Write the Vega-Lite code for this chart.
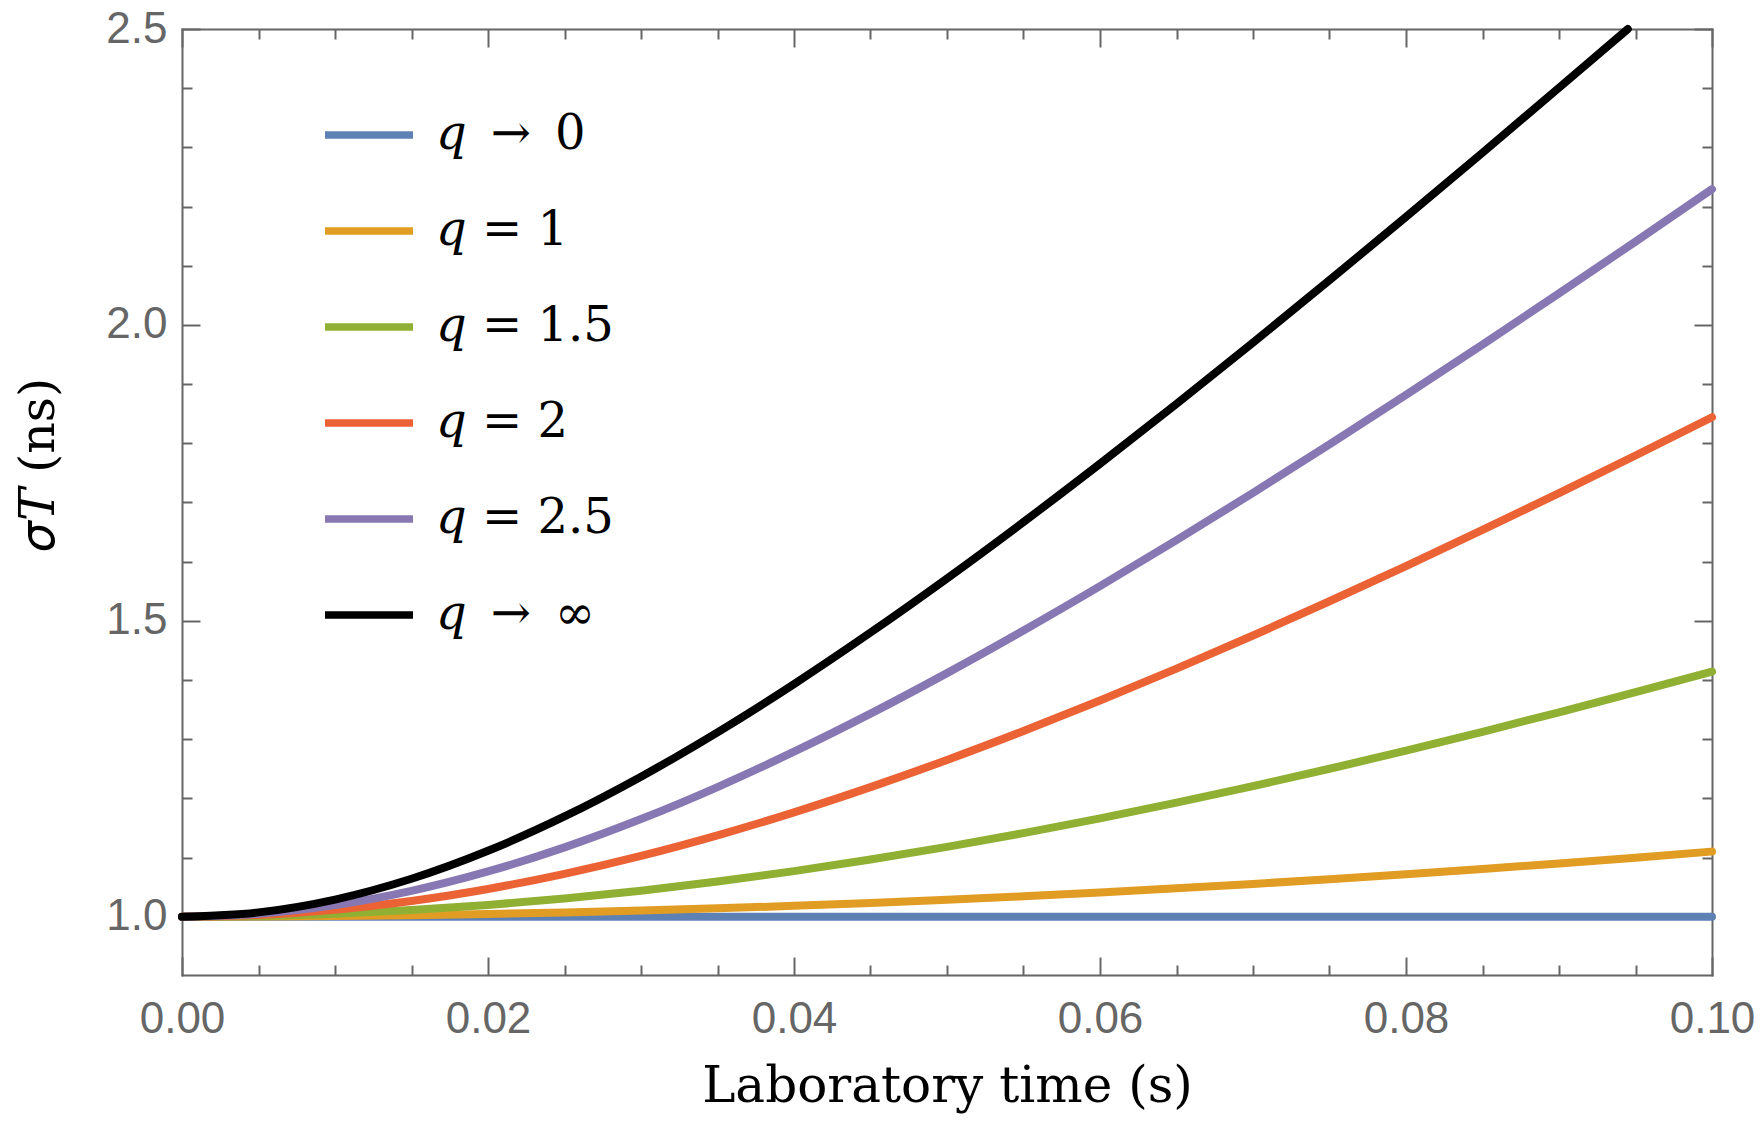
{
  "$schema": "https://vega.github.io/schema/vega-lite/v6.json",
  "width": 1530,
  "height": 946,
  "autosize": {"type": "none"},
  "padding": {"left": 182, "top": 29, "right": 49, "bottom": 150},
  "background": "white",
  "config": {
    "view": {"stroke": null},
    "axis": {
      "grid": false,
      "domainColor": "#666666",
      "domainWidth": 2,
      "domainCap": "square",
      "tickColor": "#666666",
      "tickWidth": 2,
      "labelColor": "#666666",
      "labelFont": "Liberation Sans",
      "labelFontSize": 44,
      "labelFlush": false,
      "labelOverlap": false,
      "labelBound": false
    }
  },
  "data": {
    "values": [
      {"t": 0, "s": 1.0, "series": "q → 0"},
      {"t": 0.05, "s": 1.0, "series": "q → 0"},
      {"t": 0.1, "s": 1.0, "series": "q → 0"},
      {"t": 0, "s": 1.0, "series": "q = 1"},
      {"t": 0.005, "s": 1.0003, "series": "q = 1"},
      {"t": 0.01, "s": 1.0012, "series": "q = 1"},
      {"t": 0.015, "s": 1.0026, "series": "q = 1"},
      {"t": 0.02, "s": 1.0046, "series": "q = 1"},
      {"t": 0.025, "s": 1.0072, "series": "q = 1"},
      {"t": 0.03, "s": 1.0104, "series": "q = 1"},
      {"t": 0.035, "s": 1.0141, "series": "q = 1"},
      {"t": 0.04, "s": 1.0184, "series": "q = 1"},
      {"t": 0.045, "s": 1.0233, "series": "q = 1"},
      {"t": 0.05, "s": 1.0286, "series": "q = 1"},
      {"t": 0.055, "s": 1.0345, "series": "q = 1"},
      {"t": 0.06, "s": 1.0410, "series": "q = 1"},
      {"t": 0.065, "s": 1.0479, "series": "q = 1"},
      {"t": 0.07, "s": 1.0554, "series": "q = 1"},
      {"t": 0.075, "s": 1.0633, "series": "q = 1"},
      {"t": 0.08, "s": 1.0718, "series": "q = 1"},
      {"t": 0.085, "s": 1.0807, "series": "q = 1"},
      {"t": 0.09, "s": 1.0900, "series": "q = 1"},
      {"t": 0.095, "s": 1.0998, "series": "q = 1"},
      {"t": 0.1, "s": 1.1101, "series": "q = 1"},
      {"t": 0, "s": 1.0, "series": "q = 1.5"},
      {"t": 0.005, "s": 1.0012, "series": "q = 1.5"},
      {"t": 0.01, "s": 1.0050, "series": "q = 1.5"},
      {"t": 0.015, "s": 1.0112, "series": "q = 1.5"},
      {"t": 0.02, "s": 1.0198, "series": "q = 1.5"},
      {"t": 0.025, "s": 1.0308, "series": "q = 1.5"},
      {"t": 0.03, "s": 1.0440, "series": "q = 1.5"},
      {"t": 0.035, "s": 1.0595, "series": "q = 1.5"},
      {"t": 0.04, "s": 1.0770, "series": "q = 1.5"},
      {"t": 0.045, "s": 1.0966, "series": "q = 1.5"},
      {"t": 0.05, "s": 1.1180, "series": "q = 1.5"},
      {"t": 0.055, "s": 1.1413, "series": "q = 1.5"},
      {"t": 0.06, "s": 1.1662, "series": "q = 1.5"},
      {"t": 0.065, "s": 1.1927, "series": "q = 1.5"},
      {"t": 0.07, "s": 1.2207, "series": "q = 1.5"},
      {"t": 0.075, "s": 1.2500, "series": "q = 1.5"},
      {"t": 0.08, "s": 1.2806, "series": "q = 1.5"},
      {"t": 0.085, "s": 1.3124, "series": "q = 1.5"},
      {"t": 0.09, "s": 1.3454, "series": "q = 1.5"},
      {"t": 0.095, "s": 1.3793, "series": "q = 1.5"},
      {"t": 0.1, "s": 1.4142, "series": "q = 1.5"},
      {"t": 0, "s": 1.0, "series": "q = 2"},
      {"t": 0.005, "s": 1.0030, "series": "q = 2"},
      {"t": 0.01, "s": 1.0119, "series": "q = 2"},
      {"t": 0.015, "s": 1.0266, "series": "q = 2"},
      {"t": 0.02, "s": 1.0469, "series": "q = 2"},
      {"t": 0.025, "s": 1.0724, "series": "q = 2"},
      {"t": 0.03, "s": 1.1027, "series": "q = 2"},
      {"t": 0.035, "s": 1.1375, "series": "q = 2"},
      {"t": 0.04, "s": 1.1764, "series": "q = 2"},
      {"t": 0.045, "s": 1.2190, "series": "q = 2"},
      {"t": 0.05, "s": 1.2649, "series": "q = 2"},
      {"t": 0.055, "s": 1.3138, "series": "q = 2"},
      {"t": 0.06, "s": 1.3653, "series": "q = 2"},
      {"t": 0.065, "s": 1.4192, "series": "q = 2"},
      {"t": 0.07, "s": 1.4751, "series": "q = 2"},
      {"t": 0.075, "s": 1.5330, "series": "q = 2"},
      {"t": 0.08, "s": 1.5925, "series": "q = 2"},
      {"t": 0.085, "s": 1.6535, "series": "q = 2"},
      {"t": 0.09, "s": 1.7158, "series": "q = 2"},
      {"t": 0.095, "s": 1.7793, "series": "q = 2"},
      {"t": 0.1, "s": 1.8439, "series": "q = 2"},
      {"t": 0, "s": 1.0, "series": "q = 2.5"},
      {"t": 0.005, "s": 1.0050, "series": "q = 2.5"},
      {"t": 0.01, "s": 1.0197, "series": "q = 2.5"},
      {"t": 0.015, "s": 1.0437, "series": "q = 2.5"},
      {"t": 0.02, "s": 1.0765, "series": "q = 2.5"},
      {"t": 0.025, "s": 1.1172, "series": "q = 2.5"},
      {"t": 0.03, "s": 1.1650, "series": "q = 2.5"},
      {"t": 0.035, "s": 1.2191, "series": "q = 2.5"},
      {"t": 0.04, "s": 1.2788, "series": "q = 2.5"},
      {"t": 0.045, "s": 1.3431, "series": "q = 2.5"},
      {"t": 0.05, "s": 1.4116, "series": "q = 2.5"},
      {"t": 0.055, "s": 1.4836, "series": "q = 2.5"},
      {"t": 0.06, "s": 1.5586, "series": "q = 2.5"},
      {"t": 0.065, "s": 1.6363, "series": "q = 2.5"},
      {"t": 0.07, "s": 1.7162, "series": "q = 2.5"},
      {"t": 0.075, "s": 1.7981, "series": "q = 2.5"},
      {"t": 0.08, "s": 1.8817, "series": "q = 2.5"},
      {"t": 0.085, "s": 1.9668, "series": "q = 2.5"},
      {"t": 0.09, "s": 2.0532, "series": "q = 2.5"},
      {"t": 0.095, "s": 2.1408, "series": "q = 2.5"},
      {"t": 0.1, "s": 2.2294, "series": "q = 2.5"},
      {"t": 0, "s": 1.0, "series": "q → ∞"},
      {"t": 0.005, "s": 1.0073, "series": "q → ∞"},
      {"t": 0.01, "s": 1.0290, "series": "q → ∞"},
      {"t": 0.015, "s": 1.0641, "series": "q → ∞"},
      {"t": 0.02, "s": 1.1114, "series": "q → ∞"},
      {"t": 0.025, "s": 1.1694, "series": "q → ∞"},
      {"t": 0.03, "s": 1.2366, "series": "q → ∞"},
      {"t": 0.035, "s": 1.3116, "series": "q → ∞"},
      {"t": 0.04, "s": 1.3931, "series": "q → ∞"},
      {"t": 0.045, "s": 1.4801, "series": "q → ∞"},
      {"t": 0.05, "s": 1.5716, "series": "q → ∞"},
      {"t": 0.055, "s": 1.6669, "series": "q → ∞"},
      {"t": 0.06, "s": 1.7654, "series": "q → ∞"},
      {"t": 0.065, "s": 1.8666, "series": "q → ∞"},
      {"t": 0.07, "s": 1.9701, "series": "q → ∞"},
      {"t": 0.075, "s": 2.0755, "series": "q → ∞"},
      {"t": 0.08, "s": 2.1825, "series": "q → ∞"},
      {"t": 0.085, "s": 2.2909, "series": "q → ∞"},
      {"t": 0.09, "s": 2.4006, "series": "q → ∞"},
      {"t": 0.0945, "s": 2.5, "series": "q → ∞"}
    ]
  },
  "layer": [
    {
      "mark": {"type": "line", "strokeWidth": 8, "strokeCap": "round", "interpolate": "monotone"},
      "encoding": {
        "x": {
          "field": "t", "type": "quantitative",
          "scale": {"domain": [0, 0.1], "nice": false, "zero": false},
          "axis": {
            "orient": "bottom",
            "values": [0, 0.02, 0.04, 0.06, 0.08, 0.1],
            "format": ".2f",
            "ticks": false,
            "labelPadding": 22,
            "title": "Laboratory time (s)",
            "titleFont": "DejaVu Serif",
            "titleFontSize": 50,
            "titleFontWeight": "normal",
            "titleColor": "black",
            "titleX": 765,
            "titleY": 126,
            "titleAlign": "center",
            "titleBaseline": "alphabetic"
          }
        },
        "y": {
          "field": "s", "type": "quantitative",
          "scale": {"domain": [0.9015, 2.5], "nice": false, "zero": false},
          "axis": {
            "orient": "left",
            "values": [1, 1.5, 2, 2.5],
            "format": ".1f",
            "ticks": false,
            "labelPadding": 15,
            "title": "𝜎𝑇 (ns)",
            "titleFont": "DejaVu Serif",
            "titleFontSize": 49,
            "titleFontWeight": "normal",
            "titleColor": "black",
            "titleX": -129,
            "titleY": 435,
            "titleAngle": -90,
            "titleAlign": "center",
            "titleBaseline": "alphabetic"
          }
        },
        "color": {
          "field": "series", "type": "nominal",
          "scale": {
            "domain": ["q → 0", "q = 1", "q = 1.5", "q = 2", "q = 2.5", "q → ∞"],
            "range": ["#5E81B5", "#E19C24", "#8FB032", "#EB6235", "#8778B3", "#000000"]
          },
          "legend": {
            "orient": "none",
            "legendX": 139,
            "legendY": 58,
            "title": null,
            "padding": 0,
            "symbolType": "stroke",
            "symbolSize": 7744,
            "symbolStrokeWidth": 7.5,
            "labelFont": "DejaVu Serif",
            "labelFontSize": 48,
            "labelColor": "black",
            "labelOffset": 19,
            "labelLimit": 0,
            "rowPadding": 24,
            "labelExpr": "replace(replace(datum.label, 'q', '𝑞'), ' → ', '\u2002→\u2002')"
          }
        }
      }
    },
    {
      "mark": {"type": "line", "strokeOpacity": 0},
      "encoding": {
        "x": {
          "field": "t", "type": "quantitative",
          "axis": {
            "orient": "bottom",
            "values": [0, 0.005, 0.01, 0.015, 0.02, 0.025, 0.03, 0.035, 0.04, 0.045, 0.05, 0.055, 0.06, 0.065, 0.07, 0.075, 0.08, 0.085, 0.09, 0.095, 0.1],
            "labels": false,
            "domain": false,
            "title": null,
            "tickSize": {"condition": {"test": "abs(datum.value*50 - round(datum.value*50)) < 0.001", "value": -18}, "value": -10}
          }
        },
        "y": {
          "field": "s", "type": "quantitative",
          "axis": {
            "orient": "left",
            "values": [1, 1.1, 1.2, 1.3, 1.4, 1.5, 1.6, 1.7, 1.8, 1.9, 2, 2.1, 2.2, 2.3, 2.4, 2.5],
            "labels": false,
            "domain": false,
            "title": null,
            "tickSize": {"condition": {"test": "abs(datum.value*2 - round(datum.value*2)) < 0.001", "value": -18}, "value": -10}
          }
        },
        "detail": {"field": "series"}
      }
    },
    {
      "mark": {"type": "line", "strokeOpacity": 0},
      "encoding": {
        "x": {
          "field": "t", "type": "quantitative",
          "axis": {
            "orient": "top",
            "values": [0, 0.005, 0.01, 0.015, 0.02, 0.025, 0.03, 0.035, 0.04, 0.045, 0.05, 0.055, 0.06, 0.065, 0.07, 0.075, 0.08, 0.085, 0.09, 0.095, 0.1],
            "labels": false,
            "domain": true,
            "title": null,
            "tickSize": {"condition": {"test": "abs(datum.value*50 - round(datum.value*50)) < 0.001", "value": -18}, "value": -10}
          }
        },
        "y": {
          "field": "s", "type": "quantitative",
          "axis": {
            "orient": "right",
            "values": [1, 1.1, 1.2, 1.3, 1.4, 1.5, 1.6, 1.7, 1.8, 1.9, 2, 2.1, 2.2, 2.3, 2.4, 2.5],
            "labels": false,
            "domain": true,
            "title": null,
            "tickSize": {"condition": {"test": "abs(datum.value*2 - round(datum.value*2)) < 0.001", "value": -18}, "value": -10}
          }
        },
        "detail": {"field": "series"}
      }
    }
  ],
  "resolve": {"axis": {"x": "independent", "y": "independent"}}
}
